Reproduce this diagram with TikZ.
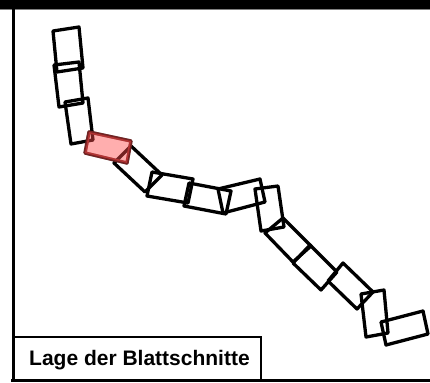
\documentclass[tikz,border=0pt]{standalone}
\usepackage{fontspec}
\setmainfont{Liberation Sans}
\begin{document}
\begin{tikzpicture}[x=1pt,y=-1pt,
  cut/.style={draw=black,line width=3.3pt,line join=round},
  hl/.style={fill=red!70!white,draw=red!70!white,line width=3.3pt,line join=round,opacity=0.45}]
\useasboundingbox (0,0) rectangle (430,382);
\fill[white] (0,0) rectangle (430,382);
% top bar
\fill[black] (0,0) rectangle (430,9);
\draw[gray,line width=1pt] (0,9.5) -- (430,9.5);
% slices
\draw[cut] (53,31) -- (79,27) -- (83,68) -- (57,72) -- cycle;
\draw[cut] (54,65) -- (79,62) -- (83,103) -- (59,107) -- cycle;
\draw[cut] (65,102) -- (88,98) -- (93,140) -- (71,144) -- cycle;
\draw[cut] (131,146) -- (162,175) -- (145,192) -- (114,163) -- cycle;
\draw[cut] (152,172) -- (193,179) -- (188,203) -- (147,196) -- cycle;
\draw[cut] (189,183) -- (231,191) -- (226,214) -- (184,206) -- cycle;
\draw[cut] (218,189) -- (260,179) -- (265,202) -- (223,213) -- cycle;
\draw[cut] (255,189) -- (278,186) -- (284,227) -- (261,231) -- cycle;
\draw[cut] (283,218) -- (311,246) -- (293,262) -- (265,233) -- cycle;
\draw[cut] (310,245) -- (337,272) -- (321,290) -- (293,263) -- cycle;
\draw[cut] (343,263) -- (373,292) -- (357,309) -- (328,281) -- cycle;
\draw[cut] (361,294) -- (384,290) -- (388,333) -- (366,337) -- cycle;
\draw[cut] (381,322) -- (423,311) -- (428,334) -- (386,345) -- cycle;
% highlighted slice
\draw[cut] (89,132) -- (131,141) -- (127,163) -- (85,153) -- cycle;
\path[hl] (89,132) -- (131,141) -- (127,163) -- (85,153) -- cycle;
% frame
\draw[black,line width=3pt] (13.5,9) -- (13.5,382);
\draw[black,line width=3pt] (11,380.5) -- (430,380.5);
% legend
\draw[black,line width=2pt] (13.5,336.5) -- (261,336.5) -- (261,380);
\node[anchor=base west,inner sep=0pt,font=\fontsize{21}{25}\selectfont\bfseries] (legend) at (29,365) {Lage der Blattschnitte};
\end{tikzpicture}
\end{document}
